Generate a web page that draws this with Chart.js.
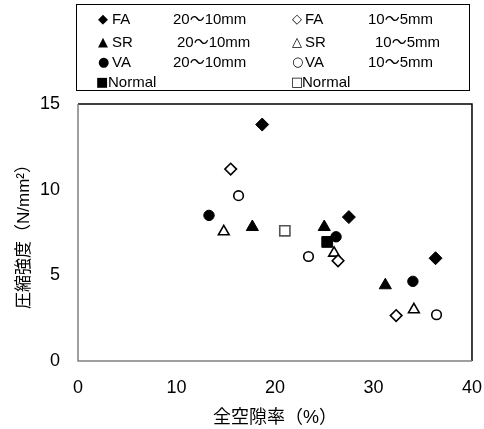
<!DOCTYPE html>
<html>
<head>
<meta charset="utf-8">
<script src="https://cdn.jsdelivr.net/npm/chart.js@4"></script>
<style>
  html, body { margin: 0; padding: 0; background: #fff; }
  #wrap { position: relative; width: 484px; height: 429px; }
  #legend {
    position: absolute; left: 76px; top: 4px; width: 394px; height: 87px;
    border: 1.5px solid #000; box-sizing: border-box;
    font-family: 'Liberation Sans', 'Noto Sans CJK JP', sans-serif; font-size: 15px; color: #000;
  }
  #legend span { position: absolute; line-height: 20px; white-space: nowrap; }
  #legend .sym { font-family: 'DejaVu Sans', sans-serif; font-size: 13px; }
</style>
</head>
<body>
<div id="wrap">
  <canvas id="chart" width="484" height="429"></canvas>
  <div id="legend"></div>
</div>
<script>
/* ── 圧縮強度 vs 全空隙率 ── */

const FONT = "'Liberation Sans', 'Noto Sans CJK JP', sans-serif";

// ── Data ──
const faCoarseX = [18.7, 27.5, 36.3];
const faCoarseY = [13.8, 8.4, 6.0];
const faFineX   = [15.5, 26.4, 32.3];
const faFineY   = [11.2, 5.85, 2.65];
const srCoarseX = [17.7, 25.0, 31.2];
const srCoarseY = [7.82, 7.82, 4.42];
const srFineX   = [14.8, 26.0, 34.1];
const srFineY   = [7.55, 6.3, 3.0];
const vaCoarseX = [13.3, 26.2, 34.0];
const vaCoarseY = [8.5, 7.25, 4.65];
const vaFineX   = [16.3, 23.4, 36.4];
const vaFineY   = [9.65, 6.1, 2.7];
const normalX     = [25.3];
const normalY     = [6.95];
const normalOpenX = [21.0];
const normalOpenY = [7.6];

const xTicks = [0, 10, 20, 30, 40];
const yTicks = [0, 5, 10, 15];

// legend rows: [symbol, name, size]
const legendLeft = [
  ['◆', 'FA', '20〜10mm'],
  ['▲', 'SR', '20〜10mm'],
  ['●', 'VA', '20〜10mm'],
  ['■', 'Normal', ''],
];
const legendRight = [
  ['◇', 'FA', '10〜5mm'],
  ['△', 'SR', '10〜5mm'],
  ['○', 'VA', '10〜5mm'],
  ['□', 'Normal', ''],
];

function pts(xs, ys) {
  return xs.map((x, i) => ({ x, y: ys[i] }));
}

function filled(label, xs, ys, style, r) {
  return {
    label, data: pts(xs, ys), pointStyle: style, pointRadius: r,
    backgroundColor: '#000', borderColor: '#000', borderWidth: 1, showLine: false,
  };
}

function open(label, xs, ys, style, r, color) {
  return {
    label, data: pts(xs, ys), pointStyle: style, pointRadius: r,
    backgroundColor: '#fff', borderColor: color || '#000', borderWidth: 1.6, showLine: false,
  };
}

// ── Legend (HTML) ──
function buildLegend() {
  const box = document.getElementById('legend');
  const rowsY = [14, 37, 57, 77];
  const add = (text, left, cy, cls) => {
    const s = document.createElement('span');
    s.textContent = text;
    if (cls) s.className = cls;
    s.style.left = left + 'px';
    s.style.top = (cy - 10) + 'px';
    box.appendChild(s);
  };
  legendLeft.forEach((r, i) => {
    add(r[0], r[1] === 'Normal' ? 19 : 21, rowsY[i], 'sym');
    add(r[1], r[1] === 'Normal' ? 31 : 35, rowsY[i]);
    if (r[2]) add(r[2], i === 1 ? 100 : 96, rowsY[i]);
  });
  legendRight.forEach((r, i) => {
    add(r[0], r[1] === 'Normal' ? 214 : 215, rowsY[i], 'sym');
    add(r[1], r[1] === 'Normal' ? 225 : 228, rowsY[i]);
    if (r[2]) add(r[2], i === 1 ? 298 : 291, rowsY[i]);
  });
}
buildLegend();

// ── Plot frame ──
const framePlugin = {
  id: 'frame',
  afterDraw(chart) {
    const { ctx, chartArea: a } = chart;
    ctx.save();
    ctx.lineWidth = 1.5;
    ctx.strokeStyle = '#000';
    ctx.beginPath();
    ctx.moveTo(a.left, a.top);
    ctx.lineTo(a.right, a.top);
    ctx.lineTo(a.right, a.bottom);
    ctx.stroke();
    ctx.strokeStyle = '#808080';
    ctx.beginPath();
    ctx.moveTo(a.left, a.top);
    ctx.lineTo(a.left, a.bottom);
    ctx.lineTo(a.right, a.bottom);
    ctx.stroke();
    ctx.restore();
  }
};

new Chart(document.getElementById('chart'), {
  type: 'scatter',
  data: {
    datasets: [
      filled('FA 20〜10mm', faCoarseX, faCoarseY, 'rectRot', 6.5),
      open('FA 10〜5mm', faFineX, faFineY, 'rectRot', 5.8),
      filled('SR 20〜10mm', srCoarseX, srCoarseY, 'triangle', 7),
      open('SR 10〜5mm', srFineX, srFineY, 'triangle', 6.2),
      filled('VA 20〜10mm', vaCoarseX, vaCoarseY, 'circle', 5.2),
      open('VA 10〜5mm', vaFineX, vaFineY, 'circle', 4.8),
      filled('Normal', normalX, normalY, 'rect', 7.6),
      open('Normal', normalOpenX, normalOpenY, 'rect', 7.2, '#555'),
    ]
  },
  options: {
    responsive: false,
    animation: false,
    layout: { padding: { top: 104, right: 0, left: 0, bottom: 0 } },
    plugins: { legend: { display: false }, tooltip: { enabled: false } },
    scales: {
      x: {
        type: 'linear', min: 0, max: 40,
        afterBuildTicks: s => { s.ticks = xTicks.map(v => ({ value: v })); },
        afterFit: s => { s.height = 68; },
        grid: { display: false, drawTicks: true, tickLength: 14 },
        border: { display: false },
        ticks: { color: '#000', font: { family: FONT, size: 18 }, padding: 2 },
        title: {
          display: true, text: '全空隙率（%）', color: '#000',
          font: { family: FONT, size: 18 }, padding: { top: 0, bottom: 0 }
        }
      },
      y: {
        type: 'linear', min: 0, max: 15,
        afterBuildTicks: s => { s.ticks = yTicks.map(v => ({ value: v })); },
        afterFit: s => { s.width = 78; },
        grid: { display: false, drawTicks: false },
        border: { display: false },
        ticks: { color: '#000', font: { family: FONT, size: 18 }, padding: 18 },
        title: {
          display: true, text: '圧縮強度（N/mm²）', color: '#000',
          font: { family: FONT, size: 17 }, padding: { top: 14, bottom: 0 }
        }
      }
    }
  },
  plugins: [framePlugin]
});
</script>
</body>
</html>
